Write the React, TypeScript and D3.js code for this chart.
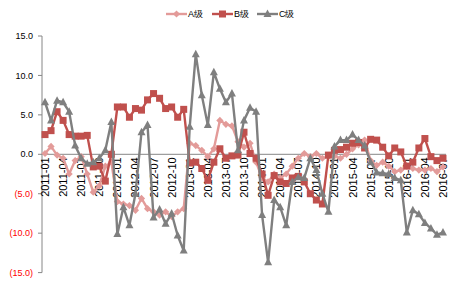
import React from "react";
import * as d3 from "d3";

const months: string[] = [];
for (let y = 2011; y <= 2016; y++) {
  for (let m = 1; m <= 12; m++) {
    if (y === 2016 && m > 7) break;
    months.push(`${y}-${String(m).padStart(2, "0")}`);
  }
}

const seriesA = [
  0.1, 1.0, -0.1, -0.5, -2.5, -0.8, -0.3, -2.5, -4.8, -4.0, -1.5, -1.0,
  -6.0, -6.3, -6.5, -7.1, -5.6, -6.9, -7.3, -7.7, -7.3, -7.9, -7.3, -6.9,
  1.4, 1.1, 0.5, -0.3, 0.7, 4.3, 3.8, 3.6, 1.6, 0.9, 1.4, -1.0,
  -3.0, -3.5, -2.5, -3.0, -2.5, -1.5, -0.5, 0.1, -0.3, 0.1, -0.5, -0.3,
  -0.2, -0.5, 0.0, 0.7, 1.2, 1.8, -0.8, -1.4, -1.0, -1.5, -2.2, -2.0,
  -1.5, -1.8, -2.0, -2.0, -1.8, -2.2, -1.6,
];
const seriesB = [
  2.5, 3.0, 5.4, 4.3, 2.5, 2.3, 2.3, 2.4, -1.6, -1.5, -3.4, 0.0,
  6.0, 6.0, 4.7, 5.8, 5.6, 6.9, 7.7, 7.1, 5.8, 6.0, 4.7, 5.7,
  -1.1, -1.0, -1.8, -3.3, -1.0, 0.7, -0.5, -0.2, -0.1, 2.8, 0.1, -0.5,
  -2.5, -5.2, -2.7, -3.5, -3.7, -3.0, -2.8, -3.5, -5.0, -5.8, -6.3, -0.1,
  0.5, 0.6, 0.9, 1.4, 1.5, 0.8, 1.9, 1.8, 0.9, -0.2, 0.8, 0.3,
  -1.5, -1.0, 0.8, 2.0, -0.3, -0.8, -0.5,
];
const seriesC = [
  6.6, 4.3, 6.8, 6.6, 5.4, 1.1, -0.5, -1.2, -1.0, -0.5, 0.5, 4.1,
  -10.1, -6.7, -9.0, -5.0, 2.8, 3.7, -8.0, -7.0, -8.8, -7.5, -10.3, -12.2,
  3.5, 12.7, 7.5, 3.7, 10.4, 8.3, 6.6, 7.7, 0.5, 4.3, 5.9, 5.4,
  -7.7, -13.7, -5.8, -6.7, -9.0, -3.5, -2.9, -3.0, -0.5, -2.0, -5.0, -7.3,
  1.0, 1.8, 1.8, 2.5, 1.8, 1.1, -1.0, -2.3, -2.4, -2.5, -3.0, -3.3,
  -9.9, -7.1, -7.6, -8.7, -9.4, -10.2, -9.9,
];
const seriesNames = ["A级", "B级", "C级"];
const yTicks = [15, 10, 5, 0, -5, -10, -15];

const W = 463;
const H = 287;
const left = 42;
const right = 446;
const top = 36;
const bottom = 272.6;

const colors = ["#E39B99", "#C0504D", "#7F7F7F"];

function fmt(v: number) {
  const s = Math.abs(v).toFixed(1);
  return v < 0 ? `(${s})` : s;
}

function Marker({ kind, x, y, color }: { kind: number; x: number; y: number; color: string }) {
  if (kind === 0) {
    const r = 3.6;
    return <path d={`M${x},${y - r}L${x + r},${y}L${x},${y + r}L${x - r},${y}Z`} fill={color} />;
  }
  if (kind === 1) {
    const s = 7;
    return <rect x={x - s / 2} y={y - s / 2} width={s} height={s} fill={color} />;
  }
  const s = 4;
  return <path d={`M${x},${y - s - 0.5}L${x + s},${y + s * 0.75}L${x - s},${y + s * 0.75}Z`} fill={color} />;
}

export default function App() {
  const x = d3.scaleBand<string>().domain(months).range([left, right]);
  const y = d3.scaleLinear().domain([-15, 15]).range([bottom, top]);
  const cx = (m: string) => (x(m) as number) + x.bandwidth() / 2;
  const all = [seriesA, seriesB, seriesC];
  const line = d3
    .line<number>()
    .x((_, i) => cx(months[i]))
    .y((v) => y(v));
  const legendX = [166, 212, 257];
  return (
    <svg width={W} height={H} style={{ position: "absolute", left: 0, top: 0, fontFamily: "'Liberation Sans', Arial, sans-serif" }}>
      <rect width={W} height={H} fill="#fff" />
      <line x1={left} x2={left} y1={top} y2={bottom} stroke="#868686" strokeWidth={1} />
      {yTicks.map((t) => (
        <g key={t}>
          <line x1={left - 4} x2={left} y1={y(t)} y2={y(t)} stroke="#868686" />
          <text x={33} y={y(t)} dy="0.35em" textAnchor="end" fontSize={9} fill={t < 0 ? "#FF0000" : "#000"}>
            {fmt(t)}
          </text>
        </g>
      ))}
      <line x1={left} x2={right} y1={y(0)} y2={y(0)} stroke="#868686" strokeWidth={1} />
      {months.map((m, i) =>
        i % 3 === 0 ? (
          <text
            key={m}
            transform={`translate(${cx(m) + 4},${y(0) + 3}) rotate(-90)`}
            textAnchor="end"
            fontSize={11}
            fill="#000"
          >
            {m}
          </text>
        ) : null
      )}
      {all.map((s, k) => (
        <g key={k}>
          <path d={line(s) || ""} fill="none" stroke={colors[k]} strokeWidth={2.4} strokeLinejoin="round" />
          {s.map((v, i) => (
            <Marker key={i} kind={k} x={cx(months[i])} y={y(v)} color={colors[k]} />
          ))}
        </g>
      ))}
      {seriesNames.map((n, k) => (
        <g key={n}>
          <line x1={legendX[k]} x2={legendX[k] + 21} y1={14} y2={14} stroke={colors[k]} strokeWidth={2.4} />
          <Marker kind={k} x={legendX[k] + 10.5} y={14} color={colors[k]} />
          <text x={legendX[k] + 22} y={14} dy="0.35em" fontSize={9} fill="#000">
            {n}
          </text>
        </g>
      ))}
    </svg>
  );
}
